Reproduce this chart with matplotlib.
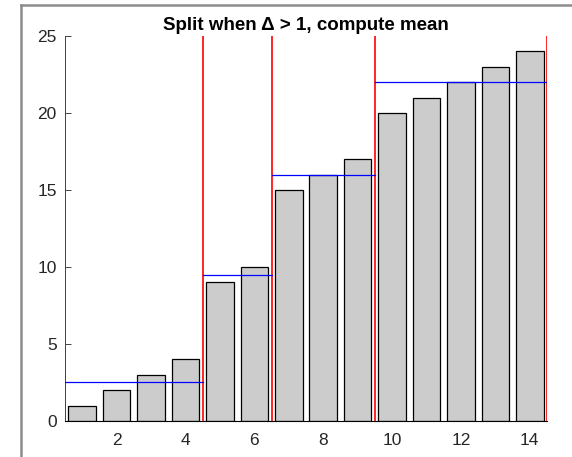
import matplotlib.pyplot as plt
from matplotlib.lines import Line2D

plt.rcParams['font.family'] = ['Liberation Sans', 'DejaVu Sans']

# bar heights and the groups found by splitting where the step exceeds 1
x = list(range(1, 15))
values = [1, 2, 3, 4, 9, 10, 15, 16, 17, 20, 21, 22, 23, 24]
splits = [0.5, 4.5, 6.5, 9.5, 14.5]
group_means = [2.5, 9.5, 16, 22]

fig = plt.figure(figsize=(5.72, 4.57), dpi=100)
ax = fig.add_axes([0.1136, 0.0788, 0.8427, 0.8424])

ax.bar(x, values, width=0.8, color='#cccccc', edgecolor='black', linewidth=0.9, zorder=2)

for s in splits:
    ax.axvline(s, color='red', linewidth=1.2, zorder=3)

for i, m in enumerate(group_means):
    ax.plot([splits[i], splits[i + 1]], [m, m], color='blue', linewidth=0.9, zorder=4)

ax.set_xlim(0.5, 14.5)
ax.set_ylim(0, 25)
ax.set_xticks(range(2, 15, 2))
ax.set_yticks(range(0, 26, 5))
ax.tick_params(axis='y', direction='in', length=4, width=0.6, labelsize=12.5, pad=6,
               colors='#262626')
ax.tick_params(axis='x', length=0, labelsize=12.5, pad=9, colors='#262626')
ax.spines['top'].set_visible(False)
ax.spines['right'].set_visible(False)
ax.spines['left'].set_linewidth(0.6)
ax.spines['bottom'].set_linewidth(0.8)
ax.set_title('Split when Δ > 1, compute mean', fontsize=13.5, fontweight='bold', pad=4)

# window frame edges
fig.add_artist(Line2D([21 / 572, 1], [1 - 5 / 457, 1 - 5 / 457], color='#8c8c8c', linewidth=1.8))
fig.add_artist(Line2D([21 / 572, 21 / 572], [0, 1 - 5 / 457], color='#8c8c8c', linewidth=1.8))

fig.savefig('out.png', dpi=100)
